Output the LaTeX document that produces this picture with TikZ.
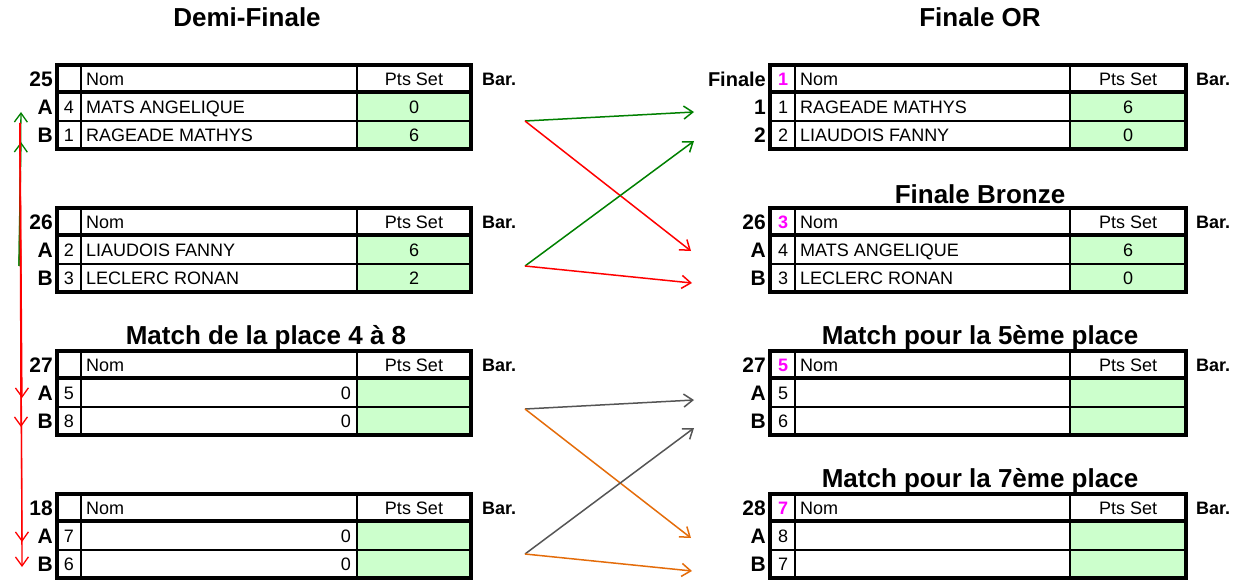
\documentclass[tikz,border=0pt]{standalone}
\usepackage{fontspec}
\setmainfont{Liberation Sans}
\usepackage{tikz}
\usetikzlibrary{arrows.meta,positioning}

\definecolor{cellgreen}{RGB}{204,255,204}
\definecolor{xlgreen}{RGB}{0,128,0}
\definecolor{xlgray}{RGB}{85,85,85}
\definecolor{xlorange}{RGB}{228,108,10}
\definecolor{xlmagenta}{RGB}{255,0,255}
\newcommand{\txtsize}{\fontsize{18}{21}\selectfont}

\begin{document}
\begin{tikzpicture}[x=1pt,y=-1pt,
  every node/.style={inner sep=0pt,text depth=0pt},
  tblframe/.style={line width=3.5pt},
  tblgrid/.style={line width=1.8pt},
  ttl/.style={font=\fontsize{26}{30}\selectfont\bfseries,text height=18.6pt},
  lbl/.style={anchor=east,font=\fontsize{21}{24}\selectfont\bfseries,text height=15pt},
  txt/.style={font=\txtsize,text height=12.9pt},
  nom/.style={anchor=west,font=\txtsize,text height=12.9pt},
  barlbl/.style={anchor=west,font=\txtsize\bfseries,text height=12.9pt},
  seed/.style={font=\txtsize\bfseries,text=xlmagenta,text height=12.9pt},
  link/.style={-{Straight Barb[length=9pt,width=13pt]},line width=1.5pt}]
\useasboundingbox (0,0) rectangle (1252,580);

% Table frames - left column
\foreach \t in {65,208,351,494}{
  \fill[cellgreen] (357,\t+27) rectangle (471,\t+84);
  \draw[tblgrid] (81,\t) -- (81,\t+84) (357,\t) -- (357,\t+84) (57,\t+56) -- (471,\t+56);
  \draw[tblframe] (57,\t) rectangle (471,\t+84) (57,\t+27) -- (471,\t+27);
}
% Table frames - right column
\foreach \t in {65,208,351,494}{
  \fill[cellgreen] (1070,\t+27) rectangle (1186,\t+84);
  \draw[tblgrid] (795,\t) -- (795,\t+84) (1070,\t) -- (1070,\t+84) (770,\t+56) -- (1186,\t+56);
  \draw[tblframe] (770,\t) rectangle (1186,\t+84) (770,\t+27) -- (1186,\t+27);
}

% Titles
\node[ttl] (tdemi) at (247,17) {Demi-Finale};
\node[ttl] (tor) at (980,17) {Finale OR};
\node[ttl] (tbronze) at (980,194) {Finale Bronze};
\node[ttl] (tplace) at (266,335) {Match de la place 4 à 8};
\node[ttl] (tcinq) at (980,335) {Match pour la 5ème place};
\node[ttl] (tsept) at (980,478) {Match pour la 7ème place};

% Demi-finale 25
\node[lbl] (m25) at (53,79) {25};
\node[nom] (m25n) at (86,79) {Nom};
\node[txt] (m25p) at (414,79) {Pts Set};
\node[barlbl] (m25bar) at (482,79) {Bar.};
\node[lbl] (m25a) at (53,107) {A};
\node[txt] (m25ai) at (69,107) {4};
\node[nom] (m25an) at (86,107) {MATS ANGELIQUE};
\node[txt] (m25ap) at (414,107) {0};
\node[lbl] (m25b) at (53,135) {B};
\node[txt] (m25bi) at (69,135) {1};
\node[nom] (m25bn) at (86,135) {RAGEADE MATHYS};
\node[txt] (m25bp) at (414,135) {6};

% Demi-finale 26
\node[lbl] (m26) at (53,222) {26};
\node[nom] (m26n) at (86,222) {Nom};
\node[txt] (m26p) at (414,222) {Pts Set};
\node[barlbl] (m26bar) at (482,222) {Bar.};
\node[lbl] (m26a) at (53,250) {A};
\node[txt] (m26ai) at (69,250) {2};
\node[nom] (m26an) at (86,250) {LIAUDOIS FANNY};
\node[txt] (m26ap) at (414,250) {6};
\node[lbl] (m26b) at (53,278) {B};
\node[txt] (m26bi) at (69,278) {3};
\node[nom] (m26bn) at (86,278) {LECLERC RONAN};
\node[txt] (m26bp) at (414,278) {2};

% Place 4 a 8 - 27
\node[lbl] (m27) at (53,365) {27};
\node[nom] (m27n) at (86,365) {Nom};
\node[txt] (m27p) at (414,365) {Pts Set};
\node[barlbl] (m27bar) at (482,365) {Bar.};
\node[lbl] (m27a) at (53,393) {A};
\node[txt] (m27ai) at (69,393) {5};
\node[txt,anchor=east] (m27an) at (351,393) {0};
\node[lbl] (m27b) at (53,421) {B};
\node[txt] (m27bi) at (69,421) {8};
\node[txt,anchor=east] (m27bn) at (351,421) {0};

% Place 4 a 8 - 18
\node[lbl] (m18) at (53,508) {18};
\node[nom] (m18n) at (86,508) {Nom};
\node[txt] (m18p) at (414,508) {Pts Set};
\node[barlbl] (m18bar) at (482,508) {Bar.};
\node[lbl] (m18a) at (53,536) {A};
\node[txt] (m18ai) at (69,536) {7};
\node[txt,anchor=east] (m18an) at (351,536) {0};
\node[lbl] (m18b) at (53,564) {B};
\node[txt] (m18bi) at (69,564) {6};
\node[txt,anchor=east] (m18bn) at (351,564) {0};

% Finale OR
\node[lbl,font=\fontsize{20}{24}\selectfont\bfseries,text height=14.3pt] (fin) at (766,79) {Finale};
\node[seed] (fins) at (783,79) {1};
\node[nom] (finn) at (800,79) {Nom};
\node[txt] (finp) at (1128,79) {Pts Set};
\node[barlbl] (finbar) at (1196,79) {Bar.};
\node[lbl] (fina) at (766,107) {1};
\node[txt] (finai) at (783,107) {1};
\node[nom] (finan) at (800,107) {RAGEADE MATHYS};
\node[txt] (finap) at (1128,107) {6};
\node[lbl] (finb) at (766,135) {2};
\node[txt] (finbi) at (783,135) {2};
\node[nom] (finbn) at (800,135) {LIAUDOIS FANNY};
\node[txt] (finbp) at (1128,135) {0};

% Finale Bronze
\node[lbl] (brz) at (766,222) {26};
\node[seed] (brzs) at (783,222) {3};
\node[nom] (brzn) at (800,222) {Nom};
\node[txt] (brzp) at (1128,222) {Pts Set};
\node[barlbl] (brzbar) at (1196,222) {Bar.};
\node[lbl] (brza) at (766,250) {A};
\node[txt] (brzai) at (783,250) {4};
\node[nom] (brzan) at (800,250) {MATS ANGELIQUE};
\node[txt] (brzap) at (1128,250) {6};
\node[lbl] (brzb) at (766,278) {B};
\node[txt] (brzbi) at (783,278) {3};
\node[nom] (brzbn) at (800,278) {LECLERC RONAN};
\node[txt] (brzbp) at (1128,278) {0};

% 5eme place
\node[lbl] (cq) at (766,365) {27};
\node[seed] (cqs) at (783,365) {5};
\node[nom] (cqn) at (800,365) {Nom};
\node[txt] (cqp) at (1128,365) {Pts Set};
\node[barlbl] (cqbar) at (1196,365) {Bar.};
\node[lbl] (cqa) at (766,393) {A};
\node[txt] (cqai) at (783,393) {5};
\node[lbl] (cqb) at (766,421) {B};
\node[txt] (cqbi) at (783,421) {6};

% 7eme place
\node[lbl] (st) at (766,508) {28};
\node[seed] (sts) at (783,508) {7};
\node[nom] (stn) at (800,508) {Nom};
\node[txt] (stp) at (1128,508) {Pts Set};
\node[barlbl] (stbar) at (1196,508) {Bar.};
\node[lbl] (sta) at (766,536) {A};
\node[txt] (stai) at (783,536) {8};
\node[lbl] (stb) at (766,564) {B};
\node[txt] (stbi) at (783,564) {7};

% Arrow end points
\coordinate (w25) at (525,121);
\coordinate (w26) at (525,266);
\coordinate (w27) at (525,409);
\coordinate (w18) at (525,554);
\coordinate (e1) at (694,112);
\coordinate (e2) at (694,141);
\coordinate (e3) at (691,251);
\coordinate (e4) at (692,283);
\coordinate (e5) at (694,400);
\coordinate (e6) at (694,428);
\coordinate (e7) at (691,538);
\coordinate (e8) at (692,571);

% Winners and losers
\draw[link,xlgreen] (w25) -- (e1);
\draw[link,red] (w25) -- (e3);
\draw[link,xlgreen] (w26) -- (e2);
\draw[link,red] (w26) -- (e4);
\draw[link,xlgray] (w27) -- (e5);
\draw[link,xlorange] (w27) -- (e7);
\draw[link,xlgray] (w18) -- (e6);
\draw[link,xlorange] (w18) -- (e8);

% Left side links
\coordinate (l26) at (19,266);
\coordinate (l25) at (20,123);
\coordinate (u1) at (21,112);
\coordinate (u2) at (21,142);
\coordinate (d1) at (22,398);
\coordinate (d2) at (21,427);
\coordinate (d3) at (22,542);
\coordinate (d4) at (22,567);
\draw[link,xlgreen,line width=1.3pt] (l26) -- (u1);
\draw[link,xlgreen,line width=1.3pt] (l26) -- (u2);
\foreach \d in {d1,d2,d3,d4}
  \draw[link,red,line width=1.3pt] (l25) -- (\d);
\end{tikzpicture}
\end{document}
